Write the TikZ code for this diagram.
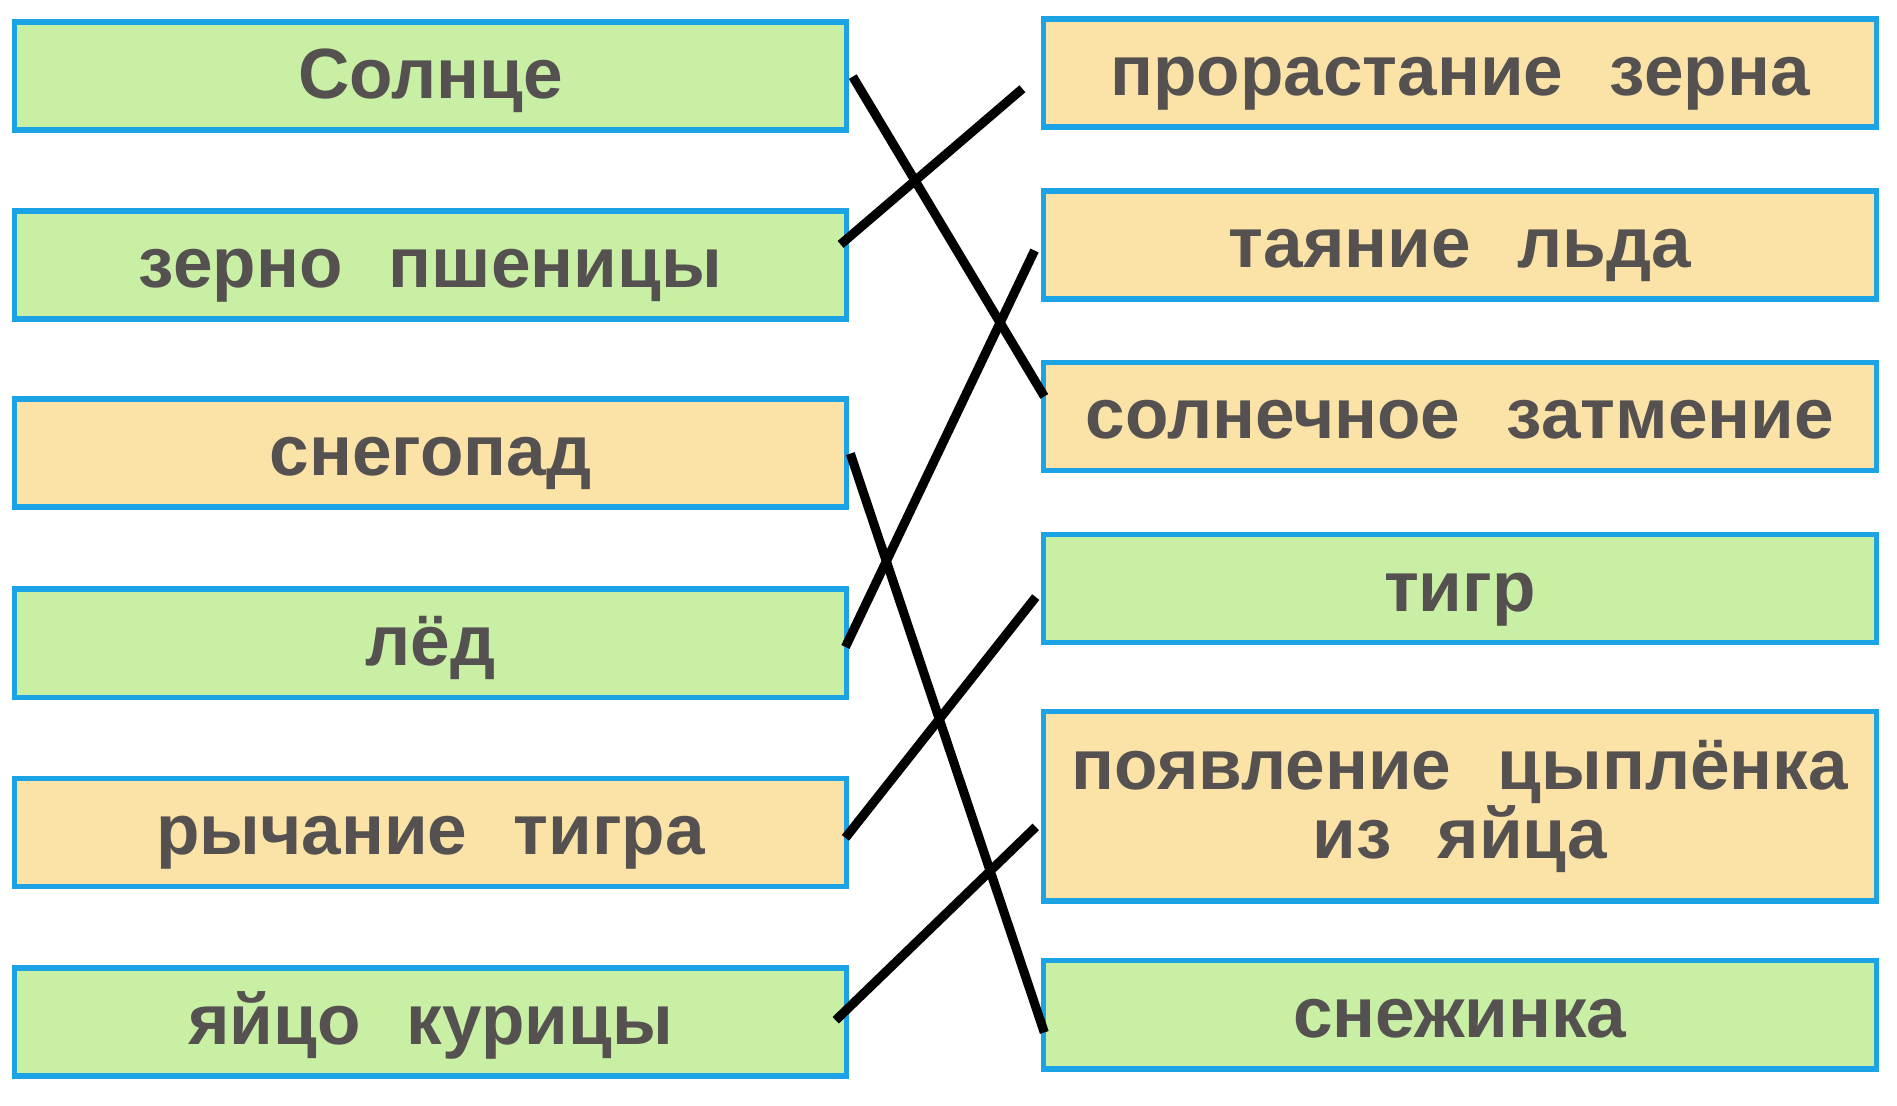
\documentclass[tikz,border=0pt]{standalone}
\usepackage{fontspec}
\setmainfont{Liberation Sans}
\definecolor{boxblue}{HTML}{1BA3E6}
\definecolor{boxgreen}{HTML}{C8EFA4}
\definecolor{boxpeach}{HTML}{FBE3A7}
\definecolor{txtgray}{HTML}{555151}
\newcommand{\gp}{\hspace{38pt}}
\begin{document}
\begin{tikzpicture}[x=1pt,y=-1pt,
  card/.style={draw=boxblue,line width=4.5pt,rectangle,inner sep=0pt,
    text=txtgray,align=center,
    font=\fontsize{58.5pt}{57pt}\selectfont\bfseries},
  oneline/.style={text height=47pt,text depth=10pt},
  lcard/.style={card,minimum width=684pt,minimum height=89pt},
  rcard/.style={card,minimum width=685pt,minimum height=89pt},
  gcard/.style={fill=boxgreen},
  pcard/.style={fill=boxpeach},
  link/.style={line width=7.5pt,black}]
\useasboundingbox[fill=white] (0,0) rectangle (1560,908.7);
% left column
\node[lcard,gcard,oneline] (sun)    at (354,62.5)  {Солнце};
\node[lcard,gcard,oneline] (zerno)  at (354,218)   {зерно\gp пшеницы};
\node[lcard,pcard,oneline] (sneg)   at (354,372.5) {снегопад};
\node[lcard,gcard,oneline] (led)    at (354,529)   {лёд};
\node[lcard,pcard,oneline] (rych)   at (354,684.5) {рычание\gp тигра};
\node[lcard,gcard,oneline] (yaitso) at (354,840.5) {яйцо\gp курицы};
% right column
\node[rcard,pcard,oneline] (prorast) at (1200.5,60)    {прорастание\gp зерна};
\node[rcard,pcard,oneline] (tayanie) at (1200.5,201.5) {таяние\gp льда};
\node[rcard,pcard,oneline] (zatm)    at (1200.5,342.5) {солнечное\gp затмение};
\node[rcard,gcard,oneline] (tigr)    at (1200.5,484)   {тигр};
\node[rcard,pcard,minimum height=156pt] (poyav) at (1200.5,663) {появление\gp цыплёнка\\из\gp яйца};
\node[rcard,gcard,oneline] (snezh)   at (1200.5,834.5) {снежинка};
% connectors
\draw[link] ([xshift=3pt,yshift=-0.5pt]sun.east) -- ([xshift=3pt,yshift=16.5pt]zatm.west);
\draw[link] ([xshift=-7pt,yshift=17pt]zerno.east) -- ([xshift=-15pt,yshift=-13pt]prorast.west);
\draw[link] ([xshift=1pt,yshift=-0.5pt]sneg.east) -- ([xshift=3pt,yshift=-14.5pt]snezh.west);
\draw[link] ([xshift=-3pt,yshift=-3pt]led.east) -- ([xshift=-5pt,yshift=-4.5pt]tayanie.west);
\draw[link] ([xshift=-3pt,yshift=-4.5pt]rych.east) -- ([xshift=-4pt,yshift=-7pt]tigr.west);
\draw[link] ([xshift=-11pt,yshift=1.5pt]yaitso.east) -- ([xshift=-4pt,yshift=-17pt]poyav.west);
\end{tikzpicture}
\end{document}
